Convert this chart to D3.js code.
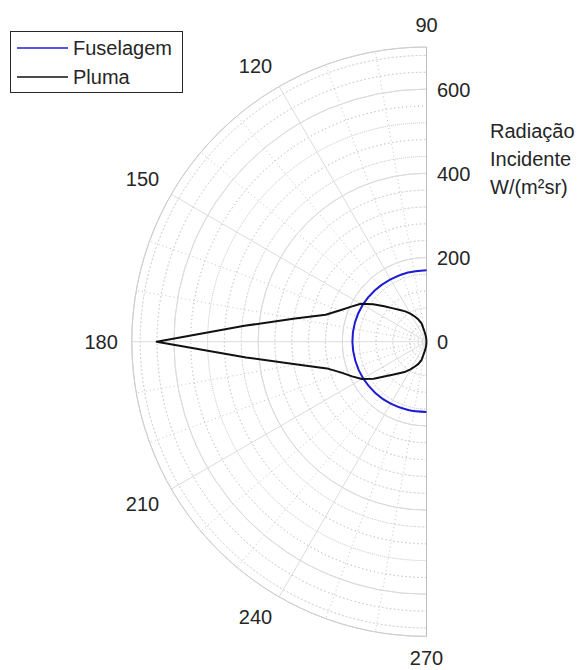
<html>
<head>
<script src="https://d3js.org/d3.v7.min.js"></script>
<style>
  body { margin: 0; background: #fff; }
  text { font-family: "Liberation Sans", Arial, sans-serif; fill: #262626; }
</style>
</head>
<body>
<svg id="polar" width="587" height="670"></svg>
<script>
// data (angle in degrees, radiance in W/(m²sr))
const plumaAngles = [90, 95, 100, 105, 110, 115, 120, 125, 130, 135, 140, 145, 150, 155, 160, 165, 170, 175, 180,
                     185, 190, 195, 200, 205, 210, 215, 220, 225, 230, 235, 240, 245, 250, 255, 260, 265, 270];
const plumaValues = [0, 10, 21, 45, 56, 66, 77, 88, 98, 112, 131, 155, 180, 197, 218, 248, 317, 434, 641,
                     430, 312, 245, 215, 195, 177, 153, 128, 110, 97, 87, 76, 65, 56, 45, 21, 10, 0];
const fuselagemAngles = [90, 105, 120, 135, 150, 165, 180, 195, 210, 225, 240, 255, 270];
const fuselagemValues = [170, 170, 171, 173, 175, 176, 176, 175, 174, 172, 170, 168, 167];

const thetaTicks = [90, 120, 150, 180, 210, 240, 270];
const thetaMinor = d3.range(90, 271, 10);
const rTicks = [0, 200, 400, 600];
const rMinor = d3.range(40, 700, 40);
const rMax = 700;
const legendLabels = ['Fuselagem', 'Pluma'];
const rLabel = ['Radiação', 'Incidente', 'W/(m²sr)'];

const svg = d3.select('svg#polar');
const cx = 426.5, cy = 341.7;
const outerR = 294.7;

const r = d3.scaleLinear().domain([0, rMax]).range([0, outerR]);
const ang = d => (90 - d) * Math.PI / 180;   // d3 angle, clockwise from top
const px = (t, rr) => rr * Math.sin(ang(t));
const py = (t, rr) => -rr * Math.cos(ang(t));

const g = svg.append('g').attr('transform', `translate(${cx},${cy})`);

const arc = d3.arc().startAngle(ang(270)).endAngle(ang(90));
const halfCircle = rr => arc({ innerRadius: rr, outerRadius: rr });

// minor circles (dotted)
g.append('g').selectAll('path').data(rMinor.filter(v => v % 200 !== 0))
  .join('path')
  .attr('d', d => halfCircle(r(d)))
  .attr('fill', 'none')
  .attr('stroke', '#c4c4c4')
  .attr('stroke-dasharray', '1,3');

// minor spokes (dotted)
g.append('g').selectAll('line').data(thetaMinor.filter(t => t % 30 !== 0))
  .join('line')
  .attr('x1', 0).attr('y1', 0)
  .attr('x2', d => px(d, outerR)).attr('y2', d => py(d, outerR))
  .attr('stroke', '#c4c4c4')
  .attr('stroke-dasharray', '1,3');

// major circles
g.append('g').selectAll('path').data(rTicks.filter(v => v > 0))
  .join('path')
  .attr('d', d => halfCircle(r(d)))
  .attr('fill', 'none')
  .attr('stroke', '#dcdcdc');

// major spokes
g.append('g').selectAll('line').data(thetaTicks.filter(t => t !== 90 && t !== 270))
  .join('line')
  .attr('x1', 0).attr('y1', 0)
  .attr('x2', d => px(d, outerR)).attr('y2', d => py(d, outerR))
  .attr('stroke', '#dcdcdc');

// outer boundary
g.append('path').attr('d', halfCircle(outerR)).attr('fill', 'none').attr('stroke', '#cfcfcf');
g.append('line').attr('x1', 0).attr('x2', 0).attr('y1', -outerR).attr('y2', outerR)
  .attr('stroke', '#bdbdbd');

// theta labels
g.append('g').selectAll('text').data(thetaTicks)
  .join('text')
  .attr('x', d => px(d, outerR + 14))
  .attr('y', d => {
    const y = py(d, outerR + 14), s = Math.sin(d * Math.PI / 180);
    if (s > 0.01) return y - 1;
    if (s < -0.01) return y + 14.5;
    return y + 7;
  })
  .attr('text-anchor', d => {
    const c = Math.cos(d * Math.PI / 180);
    return c < -0.01 ? 'end' : (c > 0.01 ? 'start' : 'middle');
  })
  .attr('font-size', 20)
  .text(d => d);

// r labels
g.append('g').selectAll('text').data(rTicks)
  .join('text')
  .attr('x', 10.5)
  .attr('y', d => -r(d) + 7.5)
  .attr('font-size', 20)
  .text(d => d);

// r axis title
svg.append('g').selectAll('text').data(rLabel)
  .join('text')
  .attr('x', 490)
  .attr('y', (d, i) => 138 + i * 28)
  .attr('font-size', 20)
  .text(d => d);

// series
const radial = d3.lineRadial().angle(d => ang(d[0])).radius(d => r(d[1]));

g.append('path')
  .datum(d3.zip(fuselagemAngles, fuselagemValues))
  .attr('d', radial.curve(d3.curveCardinal))
  .attr('fill', 'none')
  .attr('stroke', '#1c1cd2')
  .attr('stroke-width', 2);

g.append('path')
  .datum(d3.zip(plumaAngles, plumaValues))
  .attr('d', radial.curve(d3.curveLinear))
  .attr('fill', 'none')
  .attr('stroke', '#111')
  .attr('stroke-width', 2)
  .attr('stroke-linejoin', 'round');

// legend
const legend = svg.append('g');
legend.append('rect')
  .attr('x', 10.5).attr('y', 31.5).attr('width', 172).attr('height', 61)
  .attr('fill', '#fff').attr('stroke', '#262626');
const colors = ['#1c1cd2', '#111'];
legendLabels.forEach((lab, i) => {
  const y = 48 + i * 29;
  legend.append('line').attr('x1', 17).attr('x2', 68).attr('y1', y).attr('y2', y)
    .attr('stroke', colors[i]).attr('stroke-width', 1.5);
  legend.append('text').attr('x', 73).attr('y', y + 7).attr('font-size', 20).text(lab);
});
</script>
</body>
</html>
